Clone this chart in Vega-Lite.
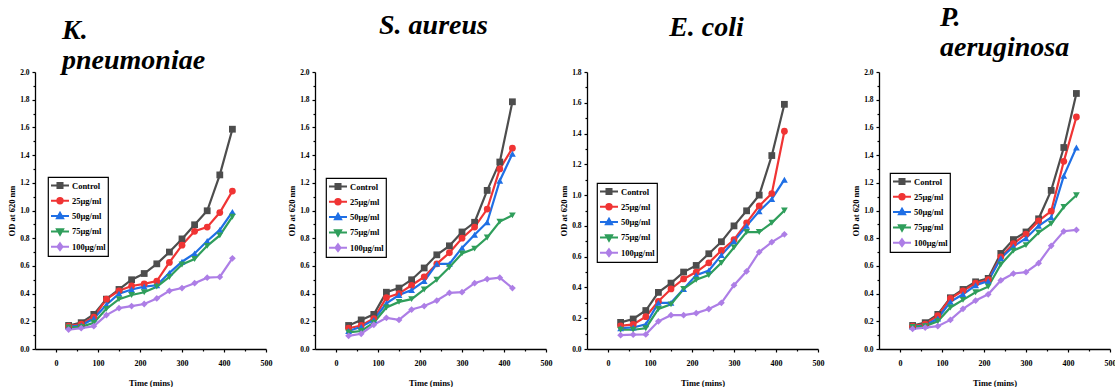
{
"$schema": "https://vega.github.io/schema/vega-lite/v6.json",
"background": "white",
"padding": {"left": 7, "top": 4, "right": 0, "bottom": 0},
"config": {
  "view": {"stroke": null},
  "font": "Liberation Serif",
  "axis": {"grid": false, "domainColor": "black", "domainWidth": 1.3, "tickColor": "black", "tickWidth": 1.2, "labelFont": "Liberation Serif", "labelFontWeight": "bold", "labelColor": "black", "titleFont": "Liberation Serif", "titleFontWeight": "bold", "titleColor": "black", "labelFlush": false},
  "title": {"font": "Liberation Serif", "fontSize": 28, "fontStyle": "italic", "fontWeight": "bold", "color": "black", "baseline": "top", "lineHeight": 30, "frame": "group"},
  "legend": {"orient": "none", "labelFont": "Liberation Serif", "labelFontWeight": "bold", "labelFontSize": 8.5, "labelColor": "black", "strokeColor": "black", "strokeWidth": 1.2, "fillColor": "white", "padding": 2, "symbolSize": 324, "clipHeight": 13, "rowPadding": 2.3, "labelOffset": 2, "symbolStrokeWidth": 2}
},
"datasets": {
"kp": [
{"t":30,"s":"Control","od":0.17},{"t":60,"s":"Control","od":0.19},{"t":90,"s":"Control","od":0.25},{"t":120,"s":"Control","od":0.36},{"t":150,"s":"Control","od":0.43},{"t":180,"s":"Control","od":0.50},{"t":210,"s":"Control","od":0.545},{"t":240,"s":"Control","od":0.615},{"t":270,"s":"Control","od":0.70},{"t":300,"s":"Control","od":0.795},{"t":330,"s":"Control","od":0.897},{"t":360,"s":"Control","od":0.998},{"t":390,"s":"Control","od":1.257},{"t":420,"s":"Control","od":1.587},
{"t":30,"s":"25μg/ml","od":0.165},{"t":60,"s":"25μg/ml","od":0.18},{"t":90,"s":"25μg/ml","od":0.23},{"t":120,"s":"25μg/ml","od":0.36},{"t":150,"s":"25μg/ml","od":0.42},{"t":180,"s":"25μg/ml","od":0.455},{"t":210,"s":"25μg/ml","od":0.47},{"t":240,"s":"25μg/ml","od":0.49},{"t":270,"s":"25μg/ml","od":0.625},{"t":300,"s":"25μg/ml","od":0.75},{"t":330,"s":"25μg/ml","od":0.85},{"t":360,"s":"25μg/ml","od":0.88},{"t":390,"s":"25μg/ml","od":0.985},{"t":420,"s":"25μg/ml","od":1.14},
{"t":30,"s":"50μg/ml","od":0.16},{"t":60,"s":"50μg/ml","od":0.17},{"t":90,"s":"50μg/ml","od":0.22},{"t":120,"s":"50μg/ml","od":0.32},{"t":150,"s":"50μg/ml","od":0.40},{"t":180,"s":"50μg/ml","od":0.43},{"t":210,"s":"50μg/ml","od":0.45},{"t":240,"s":"50μg/ml","od":0.46},{"t":270,"s":"50μg/ml","od":0.55},{"t":300,"s":"50μg/ml","od":0.63},{"t":330,"s":"50μg/ml","od":0.69},{"t":360,"s":"50μg/ml","od":0.78},{"t":390,"s":"50μg/ml","od":0.86},{"t":420,"s":"50μg/ml","od":0.99},
{"t":30,"s":"75μg/ml","od":0.155},{"t":60,"s":"75μg/ml","od":0.16},{"t":90,"s":"75μg/ml","od":0.19},{"t":120,"s":"75μg/ml","od":0.29},{"t":150,"s":"75μg/ml","od":0.36},{"t":180,"s":"75μg/ml","od":0.39},{"t":210,"s":"75μg/ml","od":0.41},{"t":240,"s":"75μg/ml","od":0.45},{"t":270,"s":"75μg/ml","od":0.52},{"t":300,"s":"75μg/ml","od":0.61},{"t":330,"s":"75μg/ml","od":0.65},{"t":360,"s":"75μg/ml","od":0.745},{"t":390,"s":"75μg/ml","od":0.82},{"t":420,"s":"75μg/ml","od":0.955},
{"t":30,"s":"100μg/ml","od":0.14},{"t":60,"s":"100μg/ml","od":0.15},{"t":90,"s":"100μg/ml","od":0.165},{"t":120,"s":"100μg/ml","od":0.245},{"t":150,"s":"100μg/ml","od":0.295},{"t":180,"s":"100μg/ml","od":0.31},{"t":210,"s":"100μg/ml","od":0.325},{"t":240,"s":"100μg/ml","od":0.365},{"t":270,"s":"100μg/ml","od":0.42},{"t":300,"s":"100μg/ml","od":0.44},{"t":330,"s":"100μg/ml","od":0.475},{"t":360,"s":"100μg/ml","od":0.515},{"t":390,"s":"100μg/ml","od":0.52},{"t":420,"s":"100μg/ml","od":0.655}
],
"sa": [
{"t":30,"s":"Control","od":0.17},{"t":60,"s":"Control","od":0.21},{"t":90,"s":"Control","od":0.25},{"t":120,"s":"Control","od":0.41},{"t":150,"s":"Control","od":0.44},{"t":180,"s":"Control","od":0.50},{"t":210,"s":"Control","od":0.585},{"t":240,"s":"Control","od":0.68},{"t":270,"s":"Control","od":0.745},{"t":300,"s":"Control","od":0.845},{"t":330,"s":"Control","od":0.915},{"t":360,"s":"Control","od":1.145},{"t":390,"s":"Control","od":1.35},{"t":420,"s":"Control","od":1.785},
{"t":30,"s":"25μg/ml","od":0.15},{"t":60,"s":"25μg/ml","od":0.17},{"t":90,"s":"25μg/ml","od":0.22},{"t":120,"s":"25μg/ml","od":0.37},{"t":150,"s":"25μg/ml","od":0.40},{"t":180,"s":"25μg/ml","od":0.46},{"t":210,"s":"25μg/ml","od":0.52},{"t":240,"s":"25μg/ml","od":0.615},{"t":270,"s":"25μg/ml","od":0.695},{"t":300,"s":"25μg/ml","od":0.80},{"t":330,"s":"25μg/ml","od":0.88},{"t":360,"s":"25μg/ml","od":1.01},{"t":390,"s":"25μg/ml","od":1.30},{"t":420,"s":"25μg/ml","od":1.45},
{"t":30,"s":"50μg/ml","od":0.13},{"t":60,"s":"50μg/ml","od":0.16},{"t":90,"s":"50μg/ml","od":0.21},{"t":120,"s":"50μg/ml","od":0.33},{"t":150,"s":"50μg/ml","od":0.39},{"t":180,"s":"50μg/ml","od":0.425},{"t":210,"s":"50μg/ml","od":0.49},{"t":240,"s":"50μg/ml","od":0.615},{"t":270,"s":"50μg/ml","od":0.615},{"t":300,"s":"50μg/ml","od":0.73},{"t":330,"s":"50μg/ml","od":0.825},{"t":360,"s":"50μg/ml","od":0.915},{"t":390,"s":"50μg/ml","od":1.215},{"t":420,"s":"50μg/ml","od":1.41},
{"t":30,"s":"75μg/ml","od":0.12},{"t":60,"s":"75μg/ml","od":0.13},{"t":90,"s":"75μg/ml","od":0.19},{"t":120,"s":"75μg/ml","od":0.30},{"t":150,"s":"75μg/ml","od":0.34},{"t":180,"s":"75μg/ml","od":0.36},{"t":210,"s":"75μg/ml","od":0.43},{"t":240,"s":"75μg/ml","od":0.50},{"t":270,"s":"75μg/ml","od":0.59},{"t":300,"s":"75μg/ml","od":0.69},{"t":330,"s":"75μg/ml","od":0.725},{"t":360,"s":"75μg/ml","od":0.805},{"t":390,"s":"75μg/ml","od":0.92},{"t":420,"s":"75μg/ml","od":0.965},
{"t":30,"s":"100μg/ml","od":0.095},{"t":60,"s":"100μg/ml","od":0.11},{"t":90,"s":"100μg/ml","od":0.175},{"t":120,"s":"100μg/ml","od":0.225},{"t":150,"s":"100μg/ml","od":0.21},{"t":180,"s":"100μg/ml","od":0.285},{"t":210,"s":"100μg/ml","od":0.31},{"t":240,"s":"100μg/ml","od":0.35},{"t":270,"s":"100μg/ml","od":0.405},{"t":300,"s":"100μg/ml","od":0.41},{"t":330,"s":"100μg/ml","od":0.475},{"t":360,"s":"100μg/ml","od":0.505},{"t":390,"s":"100μg/ml","od":0.515},{"t":420,"s":"100μg/ml","od":0.44}
],
"ec": [
{"t":30,"s":"Control","od":0.173},{"t":60,"s":"Control","od":0.195},{"t":90,"s":"Control","od":0.25},{"t":120,"s":"Control","od":0.368},{"t":150,"s":"Control","od":0.428},{"t":180,"s":"Control","od":0.50},{"t":210,"s":"Control","od":0.543},{"t":240,"s":"Control","od":0.619},{"t":270,"s":"Control","od":0.697},{"t":300,"s":"Control","od":0.80},{"t":330,"s":"Control","od":0.898},{"t":360,"s":"Control","od":1.00},{"t":390,"s":"Control","od":1.257},{"t":420,"s":"Control","od":1.59},
{"t":30,"s":"25μg/ml","od":0.15},{"t":60,"s":"25μg/ml","od":0.16},{"t":90,"s":"25μg/ml","od":0.21},{"t":120,"s":"25μg/ml","od":0.31},{"t":150,"s":"25μg/ml","od":0.39},{"t":180,"s":"25μg/ml","od":0.455},{"t":210,"s":"25μg/ml","od":0.50},{"t":240,"s":"25μg/ml","od":0.56},{"t":270,"s":"25μg/ml","od":0.64},{"t":300,"s":"25μg/ml","od":0.71},{"t":330,"s":"25μg/ml","od":0.82},{"t":360,"s":"25μg/ml","od":0.93},{"t":390,"s":"25μg/ml","od":1.01},{"t":420,"s":"25μg/ml","od":1.415},
{"t":30,"s":"50μg/ml","od":0.135},{"t":60,"s":"50μg/ml","od":0.14},{"t":90,"s":"50μg/ml","od":0.16},{"t":120,"s":"50μg/ml","od":0.30},{"t":150,"s":"50μg/ml","od":0.30},{"t":180,"s":"50μg/ml","od":0.39},{"t":210,"s":"50μg/ml","od":0.48},{"t":240,"s":"50μg/ml","od":0.51},{"t":270,"s":"50μg/ml","od":0.61},{"t":300,"s":"50μg/ml","od":0.70},{"t":330,"s":"50μg/ml","od":0.80},{"t":360,"s":"50μg/ml","od":0.895},{"t":390,"s":"50μg/ml","od":0.975},{"t":420,"s":"50μg/ml","od":1.10},
{"t":30,"s":"75μg/ml","od":0.125},{"t":60,"s":"75μg/ml","od":0.125},{"t":90,"s":"75μg/ml","od":0.135},{"t":120,"s":"75μg/ml","od":0.26},{"t":150,"s":"75μg/ml","od":0.29},{"t":180,"s":"75μg/ml","od":0.39},{"t":210,"s":"75μg/ml","od":0.45},{"t":240,"s":"75μg/ml","od":0.48},{"t":270,"s":"75μg/ml","od":0.56},{"t":300,"s":"75μg/ml","od":0.66},{"t":330,"s":"75μg/ml","od":0.76},{"t":360,"s":"75μg/ml","od":0.76},{"t":390,"s":"75μg/ml","od":0.82},{"t":420,"s":"75μg/ml","od":0.90},
{"t":30,"s":"100μg/ml","od":0.09},{"t":60,"s":"100μg/ml","od":0.093},{"t":90,"s":"100μg/ml","od":0.095},{"t":120,"s":"100μg/ml","od":0.18},{"t":150,"s":"100μg/ml","od":0.22},{"t":180,"s":"100μg/ml","od":0.22},{"t":210,"s":"100μg/ml","od":0.233},{"t":240,"s":"100μg/ml","od":0.26},{"t":270,"s":"100μg/ml","od":0.30},{"t":300,"s":"100μg/ml","od":0.415},{"t":330,"s":"100μg/ml","od":0.505},{"t":360,"s":"100μg/ml","od":0.63},{"t":390,"s":"100μg/ml","od":0.695},{"t":420,"s":"100μg/ml","od":0.745}
],
"pa": [
{"t":30,"s":"Control","od":0.17},{"t":60,"s":"Control","od":0.19},{"t":90,"s":"Control","od":0.25},{"t":120,"s":"Control","od":0.37},{"t":150,"s":"Control","od":0.43},{"t":180,"s":"Control","od":0.485},{"t":210,"s":"Control","od":0.51},{"t":240,"s":"Control","od":0.69},{"t":270,"s":"Control","od":0.79},{"t":300,"s":"Control","od":0.845},{"t":330,"s":"Control","od":0.94},{"t":360,"s":"Control","od":1.145},{"t":390,"s":"Control","od":1.455},{"t":420,"s":"Control","od":1.845},
{"t":30,"s":"25μg/ml","od":0.165},{"t":60,"s":"25μg/ml","od":0.18},{"t":90,"s":"25μg/ml","od":0.24},{"t":120,"s":"25μg/ml","od":0.365},{"t":150,"s":"25μg/ml","od":0.42},{"t":180,"s":"25μg/ml","od":0.475},{"t":210,"s":"25μg/ml","od":0.50},{"t":240,"s":"25μg/ml","od":0.665},{"t":270,"s":"25μg/ml","od":0.76},{"t":300,"s":"25μg/ml","od":0.83},{"t":330,"s":"25μg/ml","od":0.925},{"t":360,"s":"25μg/ml","od":0.995},{"t":390,"s":"25μg/ml","od":1.355},{"t":420,"s":"25μg/ml","od":1.675},
{"t":30,"s":"50μg/ml","od":0.16},{"t":60,"s":"50μg/ml","od":0.17},{"t":90,"s":"50μg/ml","od":0.22},{"t":120,"s":"50μg/ml","od":0.34},{"t":150,"s":"50μg/ml","od":0.395},{"t":180,"s":"50μg/ml","od":0.46},{"t":210,"s":"50μg/ml","od":0.49},{"t":240,"s":"50μg/ml","od":0.655},{"t":270,"s":"50μg/ml","od":0.74},{"t":300,"s":"50μg/ml","od":0.80},{"t":330,"s":"50μg/ml","od":0.89},{"t":360,"s":"50μg/ml","od":0.95},{"t":390,"s":"50μg/ml","od":1.25},{"t":420,"s":"50μg/ml","od":1.455},
{"t":30,"s":"75μg/ml","od":0.16},{"t":60,"s":"75μg/ml","od":0.165},{"t":90,"s":"75μg/ml","od":0.20},{"t":120,"s":"75μg/ml","od":0.30},{"t":150,"s":"75μg/ml","od":0.355},{"t":180,"s":"75μg/ml","od":0.41},{"t":210,"s":"75μg/ml","od":0.45},{"t":240,"s":"75μg/ml","od":0.61},{"t":270,"s":"75μg/ml","od":0.71},{"t":300,"s":"75μg/ml","od":0.75},{"t":330,"s":"75μg/ml","od":0.84},{"t":360,"s":"75μg/ml","od":0.905},{"t":390,"s":"75μg/ml","od":1.025},{"t":420,"s":"75μg/ml","od":1.11},
{"t":30,"s":"100μg/ml","od":0.145},{"t":60,"s":"100μg/ml","od":0.155},{"t":90,"s":"100μg/ml","od":0.165},{"t":120,"s":"100μg/ml","od":0.21},{"t":150,"s":"100μg/ml","od":0.29},{"t":180,"s":"100μg/ml","od":0.35},{"t":210,"s":"100μg/ml","od":0.395},{"t":240,"s":"100μg/ml","od":0.495},{"t":270,"s":"100μg/ml","od":0.545},{"t":300,"s":"100μg/ml","od":0.555},{"t":330,"s":"100μg/ml","od":0.62},{"t":360,"s":"100μg/ml","od":0.745},{"t":390,"s":"100μg/ml","od":0.85},{"t":420,"s":"100μg/ml","od":0.86}
]
},
"resolve": {"scale": {"color": "independent", "shape": "independent", "stroke": "independent"}},
"spacing": 7,
"hconcat": [
{
"spacing": 15,
"resolve": {"scale": {"color": "independent", "shape": "independent", "stroke": "independent"}},
"hconcat": [
{
"width": 231, "height": 277,
"title": {"text": ["K.", "pneumoniae"], "anchor": "start", "dx": 27, "offset": -6.5},
"data": {"name": "kp"},
"resolve": {"axis": {"x": "independent", "y": "independent"}},
"layer": [
{"mark": {"type": "line", "strokeWidth": 2.2},
 "encoding": {
  "x": {"field": "t", "type": "quantitative", "scale": {"domain": [-50, 500], "nice": false, "zero": false}, "axis": {"title": "Time (mins)", "orient": "bottom", "values": [0, 100, 200, 300, 400, 500], "tickSize": 3, "labelPadding": 7, "labelFontSize": 8, "titleFontSize": 8.5, "titlePadding": 11}},
  "y": {"field": "od", "type": "quantitative", "scale": {"domain": [0, 2], "nice": false}, "axis": {"title": "OD at 620 nm", "orient": "left", "values": [0, 0.2, 0.4, 0.6, 0.8, 1, 1.2, 1.4, 1.6, 1.8, 2], "format": ".1f", "tickSize": 3, "labelPadding": 3, "labelFontSize": 7.5, "titleFontSize": 8.5, "titlePadding": 5, "minExtent": 14, "maxExtent": 14}},
  "stroke": {"field": "s", "type": "nominal", "scale": {"domain": ["Control", "25μg/ml", "50μg/ml", "75μg/ml", "100μg/ml"], "range": ["#4d4d4d", "#f03434", "#1f6fe5", "#2f9e5b", "#ad7ee6"]}, "legend": {"title": null, "legendX": 13, "legendY": 105, "encode": {"symbols": {"update": {"shape": {"signal": "datum.value==='Control'?'M-1,0H1M-0.28,-0.28H0.28V0.28H-0.28Z':datum.value==='25μg/ml'?'M-1,0H1M-0.3,0A0.3,0.3 0 1,0 0.3,0A0.3,0.3 0 1,0 -0.3,0Z':datum.value==='50μg/ml'?'M-1,0H1M0,-0.36L0.34,0.24H-0.34Z':datum.value==='75μg/ml'?'M-1,0H1M0,0.36L0.34,-0.24H-0.34Z':'M-1,0H1M0,-0.38L0.28,0L0,0.38L-0.28,0Z'"}, "fill": {"signal": "datum.value==='Control'?'#4d4d4d':datum.value==='25μg/ml'?'#f03434':datum.value==='50μg/ml'?'#1f6fe5':datum.value==='75μg/ml'?'#2f9e5b':'#ad7ee6'"}, "strokeWidth": {"value": 2}, "opacity": {"value": 1}}}}}}
 }},
{"mark": {"type": "point", "filled": true, "size": 46, "opacity": 1},
 "encoding": {
  "x": {"field": "t", "type": "quantitative", "axis": {"title": null, "orient": "bottom", "values": [50, 150, 250, 350, 450], "tickSize": 2, "labels": false, "domain": false}},
  "y": {"field": "od", "type": "quantitative", "axis": {"title": null, "orient": "left", "values": [0.1, 0.3, 0.5, 0.7, 0.9, 1.1, 1.3, 1.5, 1.7, 1.9], "tickSize": 2, "labels": false, "domain": false}},
  "color": {"field": "s", "type": "nominal", "sort": ["Control", "25μg/ml", "50μg/ml", "75μg/ml", "100μg/ml"], "scale": {"range": ["#4d4d4d", "#f03434", "#1f6fe5", "#2f9e5b", "#ad7ee6"]}, "legend": null},
  "shape": {"field": "s", "type": "nominal", "sort": ["Control", "25μg/ml", "50μg/ml", "75μg/ml", "100μg/ml"], "scale": {"range": ["square", "circle", "triangle-up", "triangle-down", "diamond"]}, "legend": null}
 }}
]
},
{
"width": 231, "height": 277,
"title": {"text": "S. aureus", "anchor": "middle", "dx": 3, "offset": 28.5},
"data": {"name": "sa"},
"resolve": {"axis": {"x": "independent", "y": "independent"}},
"layer": [
{"mark": {"type": "line", "strokeWidth": 2.2},
 "encoding": {
  "x": {"field": "t", "type": "quantitative", "scale": {"domain": [-50, 500], "nice": false, "zero": false}, "axis": {"title": "Time (mins)", "orient": "bottom", "values": [0, 100, 200, 300, 400, 500], "tickSize": 3, "labelPadding": 7, "labelFontSize": 8, "titleFontSize": 8.5, "titlePadding": 11}},
  "y": {"field": "od", "type": "quantitative", "scale": {"domain": [0, 2], "nice": false}, "axis": {"title": "OD at 620 nm", "orient": "left", "values": [0, 0.2, 0.4, 0.6, 0.8, 1, 1.2, 1.4, 1.6, 1.8, 2], "format": ".1f", "tickSize": 3, "labelPadding": 3, "labelFontSize": 7.5, "titleFontSize": 8.5, "titlePadding": 5, "minExtent": 14, "maxExtent": 14}},
  "stroke": {"field": "s", "type": "nominal", "scale": {"domain": ["Control", "25μg/ml", "50μg/ml", "75μg/ml", "100μg/ml"], "range": ["#4d4d4d", "#f03434", "#1f6fe5", "#2f9e5b", "#ad7ee6"]}, "legend": {"title": null, "legendX": 11, "legendY": 106, "encode": {"symbols": {"update": {"shape": {"signal": "datum.value==='Control'?'M-1,0H1M-0.28,-0.28H0.28V0.28H-0.28Z':datum.value==='25μg/ml'?'M-1,0H1M-0.3,0A0.3,0.3 0 1,0 0.3,0A0.3,0.3 0 1,0 -0.3,0Z':datum.value==='50μg/ml'?'M-1,0H1M0,-0.36L0.34,0.24H-0.34Z':datum.value==='75μg/ml'?'M-1,0H1M0,0.36L0.34,-0.24H-0.34Z':'M-1,0H1M0,-0.38L0.28,0L0,0.38L-0.28,0Z'"}, "fill": {"signal": "datum.value==='Control'?'#4d4d4d':datum.value==='25μg/ml'?'#f03434':datum.value==='50μg/ml'?'#1f6fe5':datum.value==='75μg/ml'?'#2f9e5b':'#ad7ee6'"}, "strokeWidth": {"value": 2}, "opacity": {"value": 1}}}}}}
 }},
{"mark": {"type": "point", "filled": true, "size": 46, "opacity": 1},
 "encoding": {
  "x": {"field": "t", "type": "quantitative", "axis": {"title": null, "orient": "bottom", "values": [50, 150, 250, 350, 450], "tickSize": 2, "labels": false, "domain": false}},
  "y": {"field": "od", "type": "quantitative", "axis": {"title": null, "orient": "left", "values": [0.1, 0.3, 0.5, 0.7, 0.9, 1.1, 1.3, 1.5, 1.7, 1.9], "tickSize": 2, "labels": false, "domain": false}},
  "color": {"field": "s", "type": "nominal", "sort": ["Control", "25μg/ml", "50μg/ml", "75μg/ml", "100μg/ml"], "scale": {"range": ["#4d4d4d", "#f03434", "#1f6fe5", "#2f9e5b", "#ad7ee6"]}, "legend": null},
  "shape": {"field": "s", "type": "nominal", "sort": ["Control", "25μg/ml", "50μg/ml", "75μg/ml", "100μg/ml"], "scale": {"range": ["square", "circle", "triangle-up", "triangle-down", "diamond"]}, "legend": null}
 }}
]
}
]
},
{
"spacing": 27,
"resolve": {"scale": {"color": "independent", "shape": "independent", "stroke": "independent"}},
"hconcat": [
{
"width": 231, "height": 277,
"title": {"text": "E. coli", "anchor": "middle", "dx": 4, "offset": 26.5},
"data": {"name": "ec"},
"resolve": {"axis": {"x": "independent", "y": "independent"}},
"layer": [
{"mark": {"type": "line", "strokeWidth": 2.2},
 "encoding": {
  "x": {"field": "t", "type": "quantitative", "scale": {"domain": [-50, 500], "nice": false, "zero": false}, "axis": {"title": "Time (mins)", "orient": "bottom", "values": [0, 100, 200, 300, 400, 500], "tickSize": 3, "labelPadding": 7, "labelFontSize": 8, "titleFontSize": 8.5, "titlePadding": 11}},
  "y": {"field": "od", "type": "quantitative", "scale": {"domain": [0, 1.8], "nice": false}, "axis": {"title": "OD at 620 nm", "orient": "left", "values": [0, 0.2, 0.4, 0.6, 0.8, 1, 1.2, 1.4, 1.6, 1.8], "format": ".1f", "tickSize": 3, "labelPadding": 3, "labelFontSize": 7.5, "titleFontSize": 8.5, "titlePadding": 5, "minExtent": 14, "maxExtent": 14}},
  "stroke": {"field": "s", "type": "nominal", "scale": {"domain": ["Control", "25μg/ml", "50μg/ml", "75μg/ml", "100μg/ml"], "range": ["#4d4d4d", "#f03434", "#1f6fe5", "#2f9e5b", "#ad7ee6"]}, "legend": {"title": null, "legendX": 10, "legendY": 111, "encode": {"symbols": {"update": {"shape": {"signal": "datum.value==='Control'?'M-1,0H1M-0.28,-0.28H0.28V0.28H-0.28Z':datum.value==='25μg/ml'?'M-1,0H1M-0.3,0A0.3,0.3 0 1,0 0.3,0A0.3,0.3 0 1,0 -0.3,0Z':datum.value==='50μg/ml'?'M-1,0H1M0,-0.36L0.34,0.24H-0.34Z':datum.value==='75μg/ml'?'M-1,0H1M0,0.36L0.34,-0.24H-0.34Z':'M-1,0H1M0,-0.38L0.28,0L0,0.38L-0.28,0Z'"}, "fill": {"signal": "datum.value==='Control'?'#4d4d4d':datum.value==='25μg/ml'?'#f03434':datum.value==='50μg/ml'?'#1f6fe5':datum.value==='75μg/ml'?'#2f9e5b':'#ad7ee6'"}, "strokeWidth": {"value": 2}, "opacity": {"value": 1}}}}}}
 }},
{"mark": {"type": "point", "filled": true, "size": 46, "opacity": 1},
 "encoding": {
  "x": {"field": "t", "type": "quantitative", "axis": {"title": null, "orient": "bottom", "values": [50, 150, 250, 350, 450], "tickSize": 2, "labels": false, "domain": false}},
  "y": {"field": "od", "type": "quantitative", "axis": {"title": null, "orient": "left", "values": [0.1, 0.3, 0.5, 0.7, 0.9, 1.1, 1.3, 1.5, 1.7], "tickSize": 2, "labels": false, "domain": false}},
  "color": {"field": "s", "type": "nominal", "sort": ["Control", "25μg/ml", "50μg/ml", "75μg/ml", "100μg/ml"], "scale": {"range": ["#4d4d4d", "#f03434", "#1f6fe5", "#2f9e5b", "#ad7ee6"]}, "legend": null},
  "shape": {"field": "s", "type": "nominal", "sort": ["Control", "25μg/ml", "50μg/ml", "75μg/ml", "100μg/ml"], "scale": {"range": ["square", "circle", "triangle-up", "triangle-down", "diamond"]}, "legend": null}
 }}
]
},
{
"width": 231, "height": 277,
"title": {"text": ["P.", "aeruginosa"], "anchor": "start", "dx": 61, "offset": 6},
"data": {"name": "pa"},
"resolve": {"axis": {"x": "independent", "y": "independent"}},
"layer": [
{"mark": {"type": "line", "strokeWidth": 2.2},
 "encoding": {
  "x": {"field": "t", "type": "quantitative", "scale": {"domain": [-50, 500], "nice": false, "zero": false}, "axis": {"title": "Time (mins)", "orient": "bottom", "values": [0, 100, 200, 300, 400, 500], "tickSize": 3, "labelPadding": 7, "labelFontSize": 8, "titleFontSize": 8.5, "titlePadding": 11}},
  "y": {"field": "od", "type": "quantitative", "scale": {"domain": [0, 2], "nice": false}, "axis": {"title": "OD at 620 nm", "orient": "left", "values": [0, 0.2, 0.4, 0.6, 0.8, 1, 1.2, 1.4, 1.6, 1.8, 2], "format": ".1f", "tickSize": 3, "labelPadding": 3, "labelFontSize": 7.5, "titleFontSize": 8.5, "titlePadding": 5, "minExtent": 14, "maxExtent": 14}},
  "stroke": {"field": "s", "type": "nominal", "scale": {"domain": ["Control", "25μg/ml", "50μg/ml", "75μg/ml", "100μg/ml"], "range": ["#4d4d4d", "#f03434", "#1f6fe5", "#2f9e5b", "#ad7ee6"]}, "legend": {"title": null, "legendX": 11, "legendY": 101, "encode": {"symbols": {"update": {"shape": {"signal": "datum.value==='Control'?'M-1,0H1M-0.28,-0.28H0.28V0.28H-0.28Z':datum.value==='25μg/ml'?'M-1,0H1M-0.3,0A0.3,0.3 0 1,0 0.3,0A0.3,0.3 0 1,0 -0.3,0Z':datum.value==='50μg/ml'?'M-1,0H1M0,-0.36L0.34,0.24H-0.34Z':datum.value==='75μg/ml'?'M-1,0H1M0,0.36L0.34,-0.24H-0.34Z':'M-1,0H1M0,-0.38L0.28,0L0,0.38L-0.28,0Z'"}, "fill": {"signal": "datum.value==='Control'?'#4d4d4d':datum.value==='25μg/ml'?'#f03434':datum.value==='50μg/ml'?'#1f6fe5':datum.value==='75μg/ml'?'#2f9e5b':'#ad7ee6'"}, "strokeWidth": {"value": 2}, "opacity": {"value": 1}}}}}}
 }},
{"mark": {"type": "point", "filled": true, "size": 46, "opacity": 1},
 "encoding": {
  "x": {"field": "t", "type": "quantitative", "axis": {"title": null, "orient": "bottom", "values": [50, 150, 250, 350, 450], "tickSize": 2, "labels": false, "domain": false}},
  "y": {"field": "od", "type": "quantitative", "axis": {"title": null, "orient": "left", "values": [0.1, 0.3, 0.5, 0.7, 0.9, 1.1, 1.3, 1.5, 1.7, 1.9], "tickSize": 2, "labels": false, "domain": false}},
  "color": {"field": "s", "type": "nominal", "sort": ["Control", "25μg/ml", "50μg/ml", "75μg/ml", "100μg/ml"], "scale": {"range": ["#4d4d4d", "#f03434", "#1f6fe5", "#2f9e5b", "#ad7ee6"]}, "legend": null},
  "shape": {"field": "s", "type": "nominal", "sort": ["Control", "25μg/ml", "50μg/ml", "75μg/ml", "100μg/ml"], "scale": {"range": ["square", "circle", "triangle-up", "triangle-down", "diamond"]}, "legend": null}
 }}
]
}
]
}
]
}
